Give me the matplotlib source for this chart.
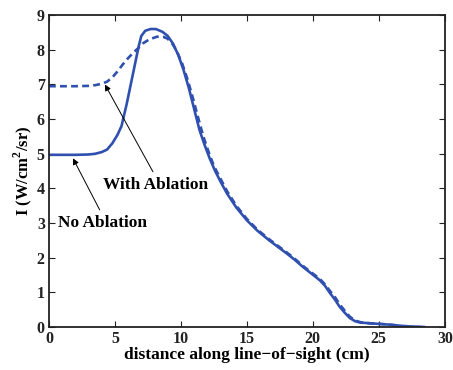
import matplotlib
matplotlib.use("Agg")
import matplotlib.pyplot as plt

# ---- data ----
x_no = [0, 2, 3, 3.5, 4.0, 4.4, 4.8, 5.2, 5.5, 5.9, 6.2, 6.5, 6.8, 7.0, 7.3, 7.7, 8.1, 8.6,
        9.0, 9.4, 9.8, 10.2, 10.6, 11.0, 11.4, 11.8, 12.2, 12.6, 13.0, 13.5, 14.2, 15.0,
        15.8, 16.7, 17.4, 18.0, 18.6, 19.2, 19.8, 20.5, 20.9, 21.3, 21.7, 22.0, 22.4, 22.8,
        23.2, 23.6, 24.3, 25.1, 25.8, 26.6, 27.3, 28.1, 28.5]
y_no = [4.97, 4.97, 4.98, 5.0, 5.05, 5.12, 5.3, 5.55, 5.8, 6.45, 7.0, 7.55, 8.1, 8.4, 8.55,
        8.6, 8.6, 8.52, 8.4, 8.18, 7.85, 7.42, 6.9, 6.3, 5.7, 5.25, 4.85, 4.5, 4.2, 3.85,
        3.45, 3.08, 2.78, 2.5, 2.3, 2.13, 1.95, 1.75, 1.57, 1.36, 1.2, 0.98, 0.78, 0.6,
        0.42, 0.26, 0.17, 0.13, 0.11, 0.09, 0.07, 0.04, 0.02, 0.01, 0.0]

x_ab = [0, 2, 3, 3.5, 4.0, 4.4, 4.8, 5.2, 5.6, 6.0, 6.4, 6.8, 7.1, 7.6, 8.2, 8.7, 9.0, 9.4,
        9.7, 10.1, 10.5, 10.9, 11.3, 11.7, 12.1, 12.5, 13.0, 13.5, 14.2, 15.0, 15.8, 16.7,
        17.4, 18.0, 18.6, 19.2, 19.8, 20.5, 20.9, 21.3, 21.7, 22.0, 22.4, 22.8, 23.2, 23.6,
        24.3, 25.1, 25.8, 26.3]
y_ab = [6.95, 6.95, 6.96, 6.98, 7.02, 7.08, 7.2, 7.38, 7.58, 7.76, 7.92, 8.06, 8.18, 8.3,
        8.38, 8.37, 8.32, 8.15, 7.95, 7.6, 7.15, 6.62, 6.05, 5.5, 5.05, 4.65, 4.28, 3.92,
        3.5, 3.12, 2.81, 2.53, 2.33, 2.16, 1.98, 1.78, 1.6, 1.4, 1.24, 1.04, 0.85, 0.67,
        0.48, 0.3, 0.19, 0.14, 0.11, 0.09, 0.07, 0.05]

x_ticks = [0, 5, 10, 15, 20, 25, 30]
y_ticks = [0, 1, 2, 3, 4, 5, 6, 7, 8, 9]

plt.rcParams['font.family'] = ['Liberation Serif', 'DejaVu Serif']
plt.rcParams['font.weight'] = 'bold'
plt.rcParams['mathtext.fontset'] = 'custom'
plt.rcParams['mathtext.rm'] = 'Liberation Serif:bold'
plt.rcParams['mathtext.bf'] = 'Liberation Serif:bold'

color = '#3050b0'
fig = plt.figure(figsize=(4.53, 3.70), dpi=100)
ax = fig.add_axes([0.108, 0.116, 0.874, 0.843])

ax.plot(x_no, y_no, color=color, lw=1.9, solid_capstyle='round')
ax.plot(x_ab, y_ab, color=color, lw=1.9, dashes=(2.6, 1.6))

ax.set_xlim(0, 30)
ax.set_ylim(0, 9)
ax.set_xticks(x_ticks)
ax.set_yticks(y_ticks)
ax.tick_params(direction='in', top=True, right=True, length=4, width=0.8,
               labelsize=11.5, pad=3, colors='#222222')
for lab in ax.get_xticklabels() + ax.get_yticklabels():
    lab.set_fontweight('bold')
for s in ax.spines.values():
    s.set_linewidth(1.3)
    s.set_color('#222222')

ax.set_xlabel('distance along line\u2212of\u2212sight (cm)', fontsize=12.5, fontweight='bold',
              labelpad=0)
ax.set_ylabel(r'I (W/cm$^{\mathbf{2}}$/sr)', fontsize=12, fontweight='bold', labelpad=2)

ax.annotate('With Ablation', xy=(4.24, 7.0), xytext=(8.1, 4.1), fontsize=12.5,
            fontweight='bold', ha='center', va='center',
            arrowprops=dict(arrowstyle='-|>', color='black', lw=0.7,
                            shrinkA=2, shrinkB=0, mutation_scale=9,
                            relpos=(0.5, 1.0)))
ax.annotate('No Ablation', xy=(1.82, 4.87), xytext=(0.68, 3.0), fontsize=12.5,
            fontweight='bold', ha='left', va='center',
            arrowprops=dict(arrowstyle='-|>', color='black', lw=0.7,
                            shrinkA=2, shrinkB=0, mutation_scale=9,
                            relpos=(0.5, 1.0)))

fig.savefig('out.png', dpi=100)
